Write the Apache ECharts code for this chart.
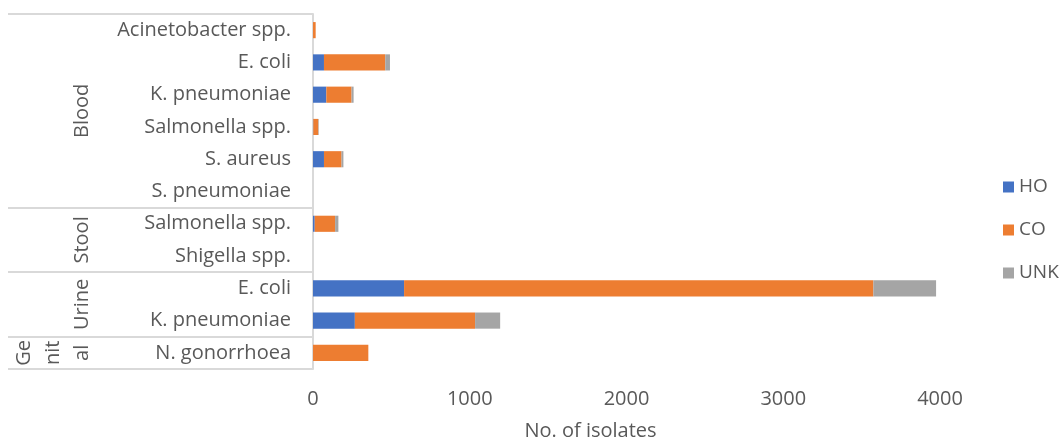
<!DOCTYPE html>
<html>
<head>
<meta charset="utf-8">
<script src="https://cdn.jsdelivr.net/npm/echarts@6/dist/echarts.min.js"></script>
<style>
html,body{margin:0;padding:0;background:#fff;}
#chart{width:1062px;height:443px;}
</style>
</head>
<body>
<div id="chart"></div>
<script>
// Categories (top to bottom)
const categories = ['Acinetobacter spp.', 'E. coli', 'K. pneumoniae', 'Salmonella spp.', 'S. aureus', 'S. pneumoniae',
  'Salmonella spp.', 'Shigella spp.', 'E. coli', 'K. pneumoniae', 'N. gonorrhoea'];
// Specimen groups and how many categories each spans
const groupLabels = ['Blood', 'Stool', 'Urine', 'Ge\nnit\nal'];
const groupSizes = [6, 2, 2, 1];
// Series values (No. of isolates)
const hoValues  = [0, 70, 85, 2, 70, 0, 11, 0, 581, 267, 0];
const coValues  = [17, 391, 161, 32, 112, 0, 130, 0, 2994, 767, 353];
const unkValues = [0, 30, 13, 3, 12, 0, 21, 0, 400, 160, 0];
const seriesNames = ['HO', 'CO', 'UNK'];
const xTicks = [0, 1000, 2000, 3000, 4000];

const textColor = '#595959';
const lineColor = '#d9d9d9';
const fontFamily = '"Open Sans", sans-serif';

// Boundary tick indices (start of each group)
const boundaries = [];
let acc = 0;
groupSizes.forEach(s => { boundaries.push(acc); acc += s; });

const chart = echarts.init(document.getElementById('chart'));
const option = {
  animation: false,
  textStyle: { fontFamily: fontFamily },
  color: ['#4472C4', '#ED7D31', '#A5A5A5'],
  grid: { left: 313, right: 122, top: 14, bottom: 74, containLabel: false, outerBoundsMode: 'none' },
  legend: {
    orient: 'vertical', left: 1003, top: 177, padding: 0,
    icon: 'rect', itemWidth: 11, itemHeight: 11, itemGap: 23,
    textStyle: { color: textColor, fontSize: 19, lineHeight: 20, fontFamily: fontFamily },
    data: seriesNames
  },
  xAxis: {
    type: 'value', min: xTicks[0], max: xTicks[xTicks.length - 1], interval: 1000,
    axisLine: { show: false }, axisTick: { show: false }, splitLine: { show: false },
    axisLabel: { color: textColor, fontSize: 20, margin: 20, fontFamily: fontFamily,
      formatter: function (v) { return String(v); } },
    name: 'No. of isolates', nameLocation: 'middle', nameGap: 52,
    nameTextStyle: { color: textColor, fontSize: 20, padding: [0, 72, 0, 0], fontFamily: fontFamily }
  },
  yAxis: {
    type: 'category', inverse: true, data: categories,
    axisLine: { show: true, lineStyle: { color: lineColor, width: 2 } },
    axisTick: {
      show: true, length: 305, alignWithLabel: false,
      interval: function (idx) { return boundaries.indexOf(idx) >= 0; },
      lineStyle: { color: lineColor, width: 2 }
    },
    axisLabel: { color: textColor, fontSize: 20, margin: 22, interval: 0, fontFamily: fontFamily },
    splitLine: { show: false }
  },
  series: [
    { name: seriesNames[0], type: 'bar', stack: 'total', barWidth: '50%', data: hoValues },
    { name: seriesNames[1], type: 'bar', stack: 'total', barWidth: '50%', data: coValues },
    { name: seriesNames[2], type: 'bar', stack: 'total', barWidth: '50%', data: unkValues }
  ]
};
chart.setOption(option);

// Place rotated group labels at the middle of their category spans
const graphics = [];
let start = 0;
groupLabels.forEach((lbl, gi) => {
  const end = start + groupSizes[gi] - 1;
  const y0 = chart.convertToPixel({ yAxisIndex: 0 }, start);
  const y1 = chart.convertToPixel({ yAxisIndex: 0 }, end);
  const multi = lbl.indexOf('\n') >= 0;
  graphics.push({
    type: 'text',
    x: multi ? 53 : 82,
    y: (y0 + y1) / 2,
    rotation: Math.PI / 2,
    style: {
      text: lbl, fill: textColor, fontSize: 20, fontFamily: fontFamily,
      align: 'center', verticalAlign: 'middle', lineHeight: 29
    }
  });
  start += groupSizes[gi];
});
chart.setOption({ graphic: graphics });
</script>
</body>
</html>
